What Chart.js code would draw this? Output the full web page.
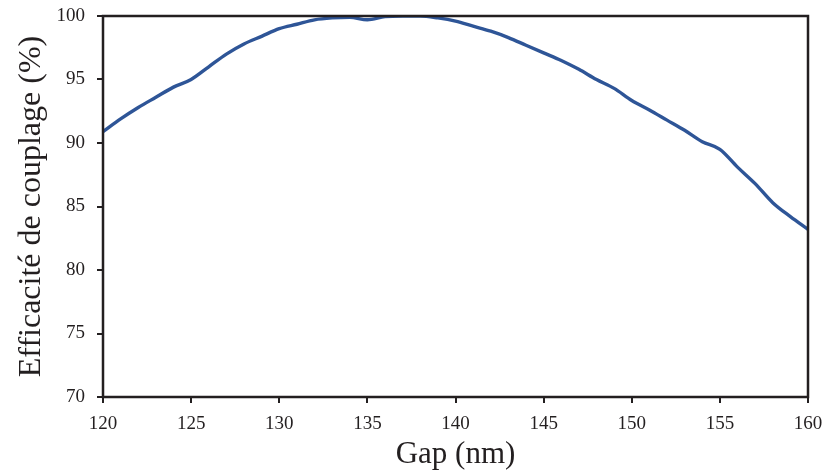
<!DOCTYPE html>
<html>
<head>
<meta charset="utf-8">
<script src="https://cdn.jsdelivr.net/npm/chart.js@4"></script>
<style>
  html, body { margin: 0; padding: 0; background: #fff; }
  #wrap { width: 825px; height: 473px; }
</style>
</head>
<body>
<div id="wrap"><canvas id="couplingChart"></canvas></div>
<script>
// Gap values (nm) and coupling efficiency (%)
const gapNm = [120, 121, 122, 123, 124, 125, 126, 127, 128, 129, 130,
               131, 132, 133, 134, 135, 136, 137, 138, 139, 140,
               141, 142, 143, 144, 145, 146, 147, 148, 149, 150,
               151, 152, 153, 154, 155, 156, 157, 158, 159, 160];
const efficiency = [90.9, 91.9, 92.8, 93.6, 94.4, 95.0, 96.0, 97.0, 97.8, 98.4, 99.0,
                    99.35, 99.7, 99.85, 99.9, 99.7, 99.95, 100.0, 100.0, 99.85, 99.6,
                    99.2, 98.8, 98.3, 97.7, 97.1, 96.5, 95.8, 95.0, 94.3, 93.35,
                    92.6, 91.8, 91.0, 90.1, 89.5, 88.1, 86.8, 85.3, 84.2, 83.2];
const xTicks = [120, 125, 130, 135, 140, 145, 150, 155, 160];
const yTicks = [70, 75, 80, 85, 90, 95, 100];

const axisColor = '#231f20';
const serif = "'Liberation Serif', 'DejaVu Serif', serif";

// draws the closed frame around the plot area
const frameBox = {
    id: 'frameBox',
    afterDatasetsDraw(chart) {
        const a = chart.chartArea;
        const ctx = chart.ctx;
        ctx.save();
        ctx.strokeStyle = axisColor;
        ctx.lineWidth = 2.5;
        ctx.strokeRect(a.left, a.top, a.right - a.left, a.bottom - a.top);
        ctx.restore();
    }
};

const ctx = document.getElementById('couplingChart').getContext('2d');
new Chart(ctx, {
    type: 'line',
    data: {
        datasets: [{
            data: gapNm.map((g, i) => ({ x: g, y: efficiency[i] })),
            borderColor: '#2e5597',
            borderWidth: 3.4,
            pointRadius: 0,
            cubicInterpolationMode: 'monotone',
            fill: false
        }]
    },
    options: {
        responsive: true,
        maintainAspectRatio: false,
        animation: false,
        layout: { padding: { top: 16, right: 17, left: 0, bottom: 0 } },
        plugins: { legend: { display: false }, tooltip: { enabled: false } },
        scales: {
            x: {
                type: 'linear',
                min: 120,
                max: 160,
                afterBuildTicks: s => { s.ticks = xTicks.map(v => ({ value: v })); },
                afterFit: s => { s.height = 76; s.paddingLeft = 0; s.paddingRight = 0; },
                border: { display: false },
                grid: { drawOnChartArea: false, drawTicks: true, tickLength: 6, color: axisColor, lineWidth: 2 },
                ticks: { color: axisColor, font: { family: serif, size: 19 }, padding: 10, maxRotation: 0 },
                title: { display: true, text: 'Gap (nm)', color: axisColor, font: { family: serif, size: 31 }, padding: { top: -2, bottom: 0 } }
            },
            y: {
                min: 70,
                max: 100,
                afterBuildTicks: s => { s.ticks = yTicks.map(v => ({ value: v })); },
                afterFit: s => { s.width = 103; s.paddingTop = 0; s.paddingBottom = 0; },
                border: { display: false },
                grid: { drawOnChartArea: false, drawTicks: true, tickLength: 6, color: axisColor, lineWidth: 2 },
                ticks: { color: axisColor, font: { family: serif, size: 19 }, padding: 12 },
                title: { display: true, text: 'Efficacité de couplage (%)', color: axisColor, font: { family: serif, size: 32 }, padding: { top: 12, bottom: 0 } }
            }
        }
    },
    plugins: [frameBox]
});
</script>
</body>
</html>
